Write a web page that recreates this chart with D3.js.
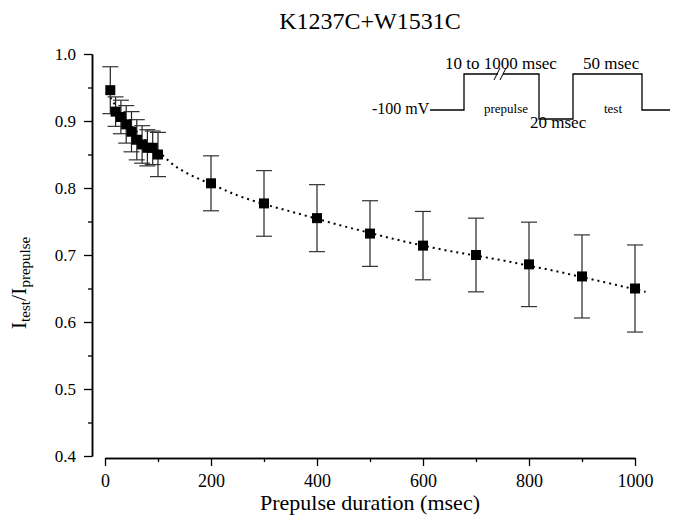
<!DOCTYPE html>
<html>
<head>
<meta charset="utf-8">
<script src="https://cdn.jsdelivr.net/npm/d3@7"></script>
<style>
  body { margin: 0; background: #fff; }
  svg { display: block; font-family: "Liberation Serif", "Times New Roman", serif; }
  svg text { font-family: "Liberation Serif", "Times New Roman", serif; }
</style>
</head>
<body>
<svg id="chart" width="673" height="526"></svg>
<script>
// prepulse durations (msec) and normalized current
const durations = [10, 20, 30, 40, 50, 60, 70, 80, 90, 100,
                   200, 300, 400, 500, 600, 700, 800, 900, 1000];
const ratios = [0.946, 0.914, 0.906, 0.895, 0.884, 0.872, 0.865, 0.860, 0.860, 0.850,
                0.807, 0.777, 0.755, 0.732, 0.714, 0.700, 0.686, 0.668, 0.650];
const errors = [0.035, 0.022, 0.025, 0.028, 0.030, 0.030, 0.028, 0.027, 0.025, 0.033,
                0.041, 0.049, 0.050, 0.049, 0.051, 0.055, 0.063, 0.062, 0.065];

// dotted fit curve
const fitTimes = [10, 20, 40, 60, 80, 100, 130, 160, 200, 250, 300, 350, 400, 450,
                  500, 550, 600, 650, 700, 750, 800, 850, 900, 950, 1020];
const fitValues = [0.935, 0.923, 0.902, 0.884, 0.868, 0.855, 0.834, 0.820, 0.806, 0.789,
                   0.776, 0.765, 0.754, 0.743, 0.733, 0.723, 0.714, 0.706, 0.699, 0.692,
                   0.684, 0.676, 0.667, 0.658, 0.645];

const xTicks = [0, 200, 400, 600, 800, 1000];
const xMinorTicks = [100, 300, 500, 700, 900];
const yTicks = [0.4, 0.5, 0.6, 0.7, 0.8, 0.9, 1.0];
const yMinorTicks = [0.45, 0.55, 0.65, 0.75, 0.85, 0.95];

const svg = d3.select("#chart");
svg.append("rect").attr("width", 673).attr("height", 526).attr("fill", "#fff");

let x = d3.scaleLinear().domain([0, 1000]).range([105, 635]);
let y = d3.scaleLinear().domain([0.4, 1.0]).range([456, 54]);

// axes (Origin style: y axis sits left of the x axis start)
let yAxisX = 92, xAxisY = 458;
const serif = "Liberation Serif, Times New Roman, serif";

let yAxis = svg.append("g").attr("transform", "translate(" + yAxisX + ",0)")
    .call(d3.axisLeft(y).tickValues(yTicks).tickFormat(d3.format(".1f"))
        .tickSize(8).tickSizeOuter(0).tickPadding(8));
svg.append("g").attr("transform", "translate(" + yAxisX + ",0)")
    .call(d3.axisLeft(y).tickValues(yMinorTicks).tickFormat("").tickSize(4).tickSizeOuter(0));

let xAxis = svg.append("g").attr("transform", "translate(0," + xAxisY + ")")
    .call(d3.axisBottom(x).tickValues(xTicks).tickFormat(d3.format("d"))
        .tickSize(8).tickSizeOuter(0).tickPadding(8));
svg.append("g").attr("transform", "translate(0," + xAxisY + ")")
    .call(d3.axisBottom(x).tickValues(xMinorTicks).tickFormat("").tickSize(4).tickSizeOuter(0));

svg.selectAll(".domain").attr("stroke", "#000").attr("stroke-width", 1.5);
svg.selectAll(".tick line").attr("stroke", "#000").attr("stroke-width", 1.3);
yAxis.attr("font-family", serif).attr("font-size", 17);
xAxis.attr("font-family", serif).attr("font-size", 18);
yAxis.selectAll("text").attr("fill", "#000");
xAxis.selectAll("text").attr("fill", "#000");

// fit curve
let fitData = fitTimes.map((t, i) => [t, fitValues[i]]);
let line = d3.line().x(d => x(d[0])).y(d => y(d[1])).curve(d3.curveMonotoneX);
svg.append("path")
    .datum(fitData)
    .attr("d", line)
    .attr("fill", "none")
    .attr("stroke", "#000")
    .attr("stroke-width", 2)
    .attr("stroke-dasharray", "2,4");

// error bars
let pts = durations.map((t, i) => ({t: t, v: ratios[i], e: errors[i]}));
let bars = svg.append("g").selectAll("g").data(pts).enter().append("g");
bars.append("line")
    .attr("x1", d => x(d.t)).attr("x2", d => x(d.t))
    .attr("y1", d => y(d.v + d.e)).attr("y2", d => y(d.v - d.e))
    .attr("stroke", "#222").attr("stroke-width", 1.2);
bars.append("line")
    .attr("x1", d => x(d.t) - 8).attr("x2", d => x(d.t) + 8)
    .attr("y1", d => y(d.v + d.e)).attr("y2", d => y(d.v + d.e))
    .attr("stroke", "#333").attr("stroke-width", 1.2);
bars.append("line")
    .attr("x1", d => x(d.t) - 8).attr("x2", d => x(d.t) + 8)
    .attr("y1", d => y(d.v - d.e)).attr("y2", d => y(d.v - d.e))
    .attr("stroke", "#333").attr("stroke-width", 1.2);

// square markers
svg.append("g").selectAll("rect").data(pts).enter().append("rect")
    .attr("x", d => x(d.t) - 5)
    .attr("y", d => y(d.v) - 5)
    .attr("width", 10).attr("height", 10)
    .attr("fill", "#000");

// title and axis labels
svg.append("text").attr("x", 370).attr("y", 29).attr("text-anchor", "middle")
    .attr("font-size", 24).text("K1237C+W1531C");

svg.append("text").attr("x", 370).attr("y", 510).attr("text-anchor", "middle")
    .attr("font-size", 22).text("Prepulse duration (msec)");

let yLabel = svg.append("text")
    .attr("transform", "translate(26,283) rotate(-90)")
    .attr("text-anchor", "middle")
    .attr("font-size", 22);
yLabel.append("tspan").text("I");
yLabel.append("tspan").attr("font-size", 15).attr("dy", 4).text("test");
yLabel.append("tspan").attr("dy", -4).text("/I");
yLabel.append("tspan").attr("font-size", 15).attr("dy", 4).text("prepulse");

// voltage protocol inset
let inset = svg.append("g");
inset.append("path")
    .attr("d", "M430,110 H464 V74 H539 V119 H573 V74 H642 V110 H670")
    .attr("fill", "none").attr("stroke", "#000").attr("stroke-width", 1.3);
inset.append("rect").attr("x", 498).attr("y", 72).attr("width", 5).attr("height", 4).attr("fill", "#fff");
inset.append("line").attr("x1", 494).attr("y1", 80).attr("x2", 500).attr("y2", 68).attr("stroke", "#000");
inset.append("line").attr("x1", 500).attr("y1", 80).attr("x2", 506).attr("y2", 68).attr("stroke", "#000");
inset.append("text").attr("x", 372).attr("y", 114).attr("font-size", 16).text("-100 mV");
inset.append("text").attr("x", 445).attr("y", 69).attr("font-size", 17).text("10 to 1000 msec");
inset.append("text").attr("x", 583).attr("y", 69).attr("font-size", 17).text("50 msec");
inset.append("text").attr("x", 506).attr("y", 113).attr("text-anchor", "middle").attr("font-size", 13).text("prepulse");
inset.append("text").attr("x", 613).attr("y", 113).attr("text-anchor", "middle").attr("font-size", 13).text("test");
inset.append("text").attr("x", 530).attr("y", 128).attr("font-size", 17).text("20 msec");
</script>
</body>
</html>
